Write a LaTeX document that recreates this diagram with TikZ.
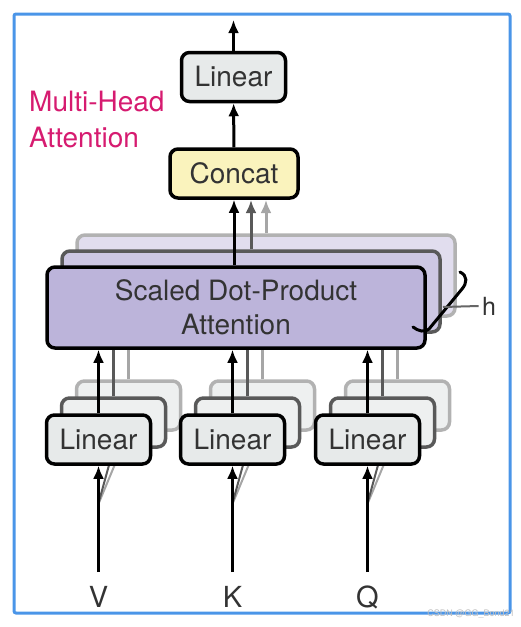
\documentclass[tikz,border=0pt]{standalone}
\usepackage{fontspec}
\setmainfont{TeX Gyre Heros}
\usetikzlibrary{arrows.meta}
\definecolor{frameblue}{HTML}{4A95E8}
\definecolor{lingray}{HTML}{E7EAEA}
\definecolor{catyellow}{HTML}{FAF3BD}
\definecolor{attlav}{HTML}{BCB4DA}
\definecolor{headpink}{HTML}{D61B70}
\definecolor{txtgray}{HTML}{333333}
\tikzset{
  block/.style={draw=black,line width=3.5pt,rounded corners=8pt,inner sep=0pt,text=txtgray,font=\fontsize{28}{34}\selectfont},
  linbox/.style={block,fill=lingray,minimum width=104pt,minimum height=49pt},
  flow/.style={line width=3pt,-{Latex[length=13pt,width=11pt]}},
  ghost/.style={line width=3pt},
}
\begin{document}
\begin{tikzpicture}[x=1pt,y=-1pt]
\path[use as bounding box] (0,0) rectangle (521,627);
\draw[frameblue,line width=3pt,rounded corners=2pt] (14,14) rectangle (510,613);
% shadow heads, farthest first
\foreach \d/\bd/\fl/\al in {2/black!30/attlav!45/black!35,1/black!65/attlav!75/black!65}{
  \node[block,draw=\bd,fill=\fl,minimum width=378pt,minimum height=81pt] (sdpa-b\d) at (236+15*\d,307.5-16*\d) {};
  \draw[flow,draw=\al,color=\al] (sdpa-b\d.north) -- (sdpa-b\d.north |- 0,200);
  \foreach \n/\x in {v/98.5,k/232.5,q/367.5}{
    \node[linbox,draw=\bd,fill=lingray!70] (l\n-b\d) at (\x+15*\d,439.5-17*\d) {};
    \draw[ghost,draw=\al] (l\n-b\d.north) -- (l\n-b\d.north |- sdpa-b\d.south);
    \draw[ghost,draw=\al,line width=2pt] (\x-0.5,505) -- (l\n-b\d.south);
  }
}
% front head
\node[block,fill=attlav,minimum width=378pt,minimum height=81pt,align=center] (sdpa) at (236,307.5) {Scaled Dot-Product\\Attention};
\node[block,fill=catyellow,minimum width=128pt,minimum height=49pt] (concat) at (234,173.5) {Concat};
\node[linbox] (lintop) at (233.5,77) {Linear};
\coordinate (out) at (233.5,20);
\draw[flow] (sdpa.north -| concat) -- (concat.south);
\draw[flow] (concat) -- (lintop);
\draw[flow] (lintop) -- (out);
\foreach \n/\x/\t in {v/98.5/V,k/232.5/K,q/367.5/Q}{
  \node[linbox] (l\n) at (\x,439.5) {Linear};
  \coordinate (i\n) at (\x,572);
  \node[text=txtgray,font=\fontsize{29}{30}\selectfont] (t\n) at (\x,597) {\t};
  \draw[flow] (i\n) -- (l\n);
  \draw[flow] (l\n) -- (l\n |- sdpa.south);
}
% h bracket
\draw[line width=3pt,line cap=round] (460,272) .. controls (468,276) and (467,283) .. (462,289) -- (429,329) .. controls (425,333) and (418,331) .. (413,327);
\node[text=txtgray,font=\fontsize{25}{26}\selectfont] (h) at (489,306) {h};
\draw[black!60,line width=2pt] (443,307) -- (h.west);
\node[anchor=north west,inner sep=0pt,align=left,text=headpink,font=\fontsize{28}{36}\selectfont] (mha) at (29,91) {Multi-Head\\Attention};
\node[text=black!25,font=\fontsize{9}{10}\selectfont] (wm) at (471,614) {CSDN @GG\_Bond21};
\end{tikzpicture}
\end{document}
